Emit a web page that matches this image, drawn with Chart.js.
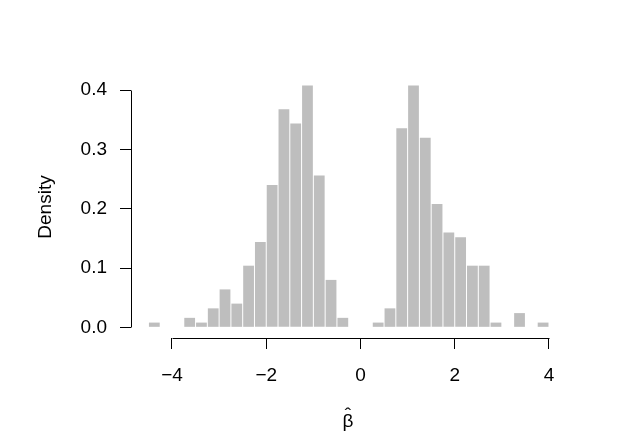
<!DOCTYPE html>
<html>
<head>
<meta charset="utf-8">
<script src="https://cdn.jsdelivr.net/npm/chart.js@4"></script>
<style>
  body { margin: 0; background: #fff; }
</style>
</head>
<body>
<canvas id="histChart" width="629" height="444"></canvas>
<script>
// bin midpoints (bins of width 0.25 from -4.5 to 4)
const binMids = [-4.375, -4.125, -3.875, -3.625, -3.375, -3.125, -2.875, -2.625,
  -2.375, -2.125, -1.875, -1.625, -1.375, -1.125, -0.875, -0.625, -0.375, -0.125,
  0.125, 0.375, 0.625, 0.875, 1.125, 1.375, 1.625, 1.875, 2.125, 2.375, 2.625,
  2.875, 3.125, 3.375, 3.625, 3.875];
const density = [0.008, 0, 0, 0.016, 0.008, 0.032, 0.064, 0.04,
  0.104, 0.144, 0.24, 0.368, 0.344, 0.408, 0.256, 0.08, 0.016, 0,
  0, 0.008, 0.032, 0.336, 0.408, 0.32, 0.208, 0.16, 0.152, 0.104, 0.104,
  0.008, 0, 0.024, 0, 0.008];
const xTicks = [-4, -2, 0, 2, 4];
const yTicks = [0, 0.1, 0.2, 0.3, 0.4];

const font = { family: 'Liberation Sans, Arial, sans-serif', size: 19 };

// R-style detached axis lines, only between first and last tick
const axisLines = {
  id: 'axisLines',
  afterDraw(chart) {
    const { ctx, chartArea, scales: { x, y } } = chart;
    ctx.save();
    ctx.strokeStyle = '#000';
    ctx.lineWidth = 1;
    ctx.beginPath();
    const by = Math.round(chartArea.bottom) + 0.5;
    ctx.moveTo(Math.round(x.getPixelForValue(xTicks[0])) + 0.5, by);
    ctx.lineTo(Math.round(x.getPixelForValue(xTicks[xTicks.length - 1])) + 0.5, by);
    const lx = Math.round(chartArea.left) + 0.5;
    ctx.moveTo(lx, Math.round(y.getPixelForValue(yTicks[0])) + 0.5);
    ctx.lineTo(lx, Math.round(y.getPixelForValue(yTicks[yTicks.length - 1])) + 0.5);
    ctx.stroke();
    ctx.restore();
  }
};

new Chart(document.getElementById('histChart'), {
  type: 'bar',
  data: {
    datasets: [{
      data: binMids.map((m, i) => ({ x: m, y: density[i] })),
      backgroundColor: '#bebebe',
      borderWidth: 0,
      barPercentage: 0.915,
      categoryPercentage: 1
    }]
  },
  options: {
    responsive: false,
    animation: false,
    devicePixelRatio: 1,
    layout: { padding: { left: 0, top: 76, right: 64, bottom: 0 } },
    plugins: { legend: { display: false }, tooltip: { enabled: false } },
    scales: {
      x: {
        type: 'linear',
        min: -4.87,
        max: 4.34,
        offset: false,
        afterBuildTicks: s => { s.ticks = xTicks.map(v => ({ value: v })); },
        afterFit: s => { s.height = 106; },
        border: { display: false },
        grid: { drawOnChartArea: false, offset: false, color: '#000', tickLength: 11, tickColor: '#000' },
        ticks: {
          color: '#000', font, padding: 15, maxRotation: 0, autoSkip: false,
          callback: v => (v < 0 ? '\u2212' + Math.abs(v) : String(v))
        },
        title: {
          // beta with a hat: accent on its own line, squeezed down onto the letter
          display: true, text: ['\u02C6', '\u03B2'], color: '#000',
          font: { ...font, lineHeight: '6px' },
          padding: { top: 0, bottom: 19.6 }
        }
      },
      y: {
        min: -0.018,
        max: 0.424,
        afterBuildTicks: s => { s.ticks = yTicks.map(v => ({ value: v })); },
        afterFit: s => { s.width = 131; },
        border: { display: false },
        grid: { drawOnChartArea: false, color: '#000', tickLength: 11, tickColor: '#000' },
        ticks: {
          color: '#000', font, padding: 13, autoSkip: false,
          callback: v => v.toFixed(1)
        },
        title: {
          display: true, text: 'Density', color: '#000', font,
          padding: { top: 34, bottom: 0 }
        }
      }
    }
  },
  plugins: [axisLines]
});
</script>
</body>
</html>
